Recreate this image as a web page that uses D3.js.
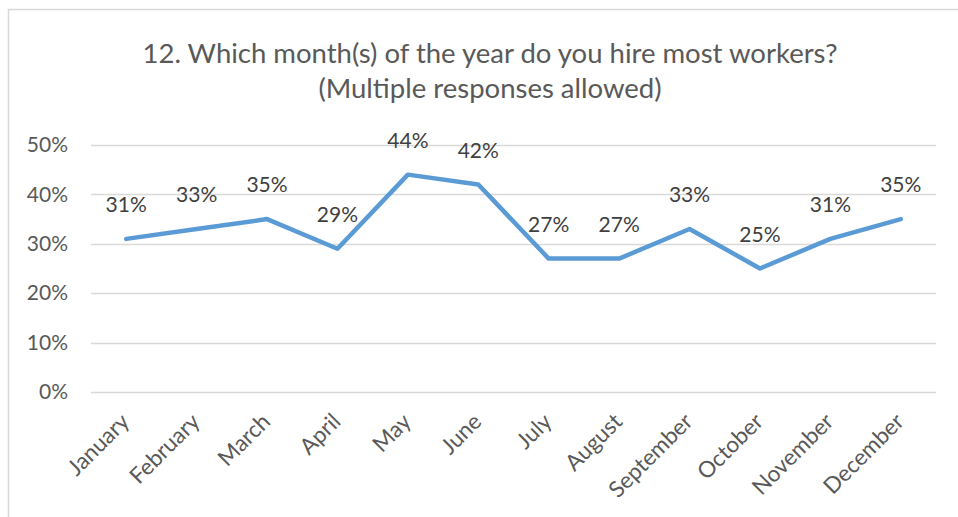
<!DOCTYPE html>
<html>
<head>
<meta charset="utf-8">
<script src="https://cdn.jsdelivr.net/npm/d3@7"></script>
<style>
  html, body { margin: 0; padding: 0; background: #fff; }
  svg { display: block; font-family: Lato, "Open Sans", sans-serif; }
</style>
</head>
<body>
<svg id="chart" width="958" height="517"></svg>
<script>
// Survey results: share of respondents hiring most workers in each month
const months = ["January", "February", "March", "April", "May", "June",
                "July", "August", "September", "October", "November", "December"];
const shares = [31, 33, 35, 29, 44, 42, 27, 27, 33, 25, 31, 35];
const yTicks = [0, 10, 20, 30, 40, 50];
const titleLines = ["12. Which month(s) of the year do you hire most workers?",
                    "(Multiple responses allowed)"];

const svg = d3.select("#chart");
const W = 958, H = 517;
const plot = { left: 91, right: 936, top: 145, bottom: 392 };
const FONT = "Lato, 'Open Sans', sans-serif";

// Chart frame (runs off the right and bottom edges)
svg.append("rect")
  .attr("x", 8.5).attr("y", 9.5)
  .attr("width", W + 10).attr("height", H + 10)
  .attr("fill", "#fff").attr("stroke", "#d9d9d9").attr("stroke-width", 1.5);

// Title
const title = svg.append("g").attr("fill", "#595959")
  .attr("text-anchor", "middle").style("font-size", "27.5px");
title.selectAll("text").data(titleLines).join("text")
  .attr("x", 490)
  .attr("y", (d, i) => 63 + i * 35)
  .text(d => d);

const x = d3.scalePoint().domain(months).range([plot.left, plot.right]).padding(0.5);
const y = d3.scaleLinear().domain([0, 50]).range([plot.bottom, plot.top]);

// Horizontal gridlines
svg.append("g")
  .selectAll("line").data(yTicks).join("line")
  .attr("x1", plot.left).attr("x2", plot.right)
  .attr("y1", d => Math.round(y(d)) + 0.5).attr("y2", d => Math.round(y(d)) + 0.5)
  .attr("stroke", "#d9d9d9").attr("stroke-width", 1.3);

// Y axis labels
const yAxis = d3.axisLeft(y).tickValues(yTicks).tickFormat(d => d + "%").tickSize(0).tickPadding(23);
const yg = svg.append("g").attr("transform", `translate(${plot.left},0)`).call(yAxis);
yg.select(".domain").remove();
yg.selectAll("text").attr("fill", "#595959").style("font-size", "21px")
  .style("font-family", FONT);

// X axis labels, rotated
const xAxis = d3.axisBottom(x).tickSize(0).tickPadding(0);
const xg = svg.append("g").attr("transform", `translate(0,${plot.bottom})`).call(xAxis);
xg.select(".domain").remove();
xg.selectAll("text")
  .attr("fill", "#595959").style("font-size", "22.5px")
  .style("font-family", FONT)
  .attr("text-anchor", "end")
  .attr("dy", 0)
  .attr("transform", "translate(4,31) rotate(-45)");

// Data line
const line = d3.line().x((d, i) => x(months[i])).y(d => y(d));
svg.append("path")
  .datum(shares)
  .attr("d", line)
  .attr("fill", "none")
  .attr("stroke", "#5b9bd5")
  .attr("stroke-width", 4.5)
  .attr("stroke-linejoin", "round")
  .attr("stroke-linecap", "round");

// Data labels
svg.append("g")
  .selectAll("text").data(shares).join("text")
  .attr("x", (d, i) => x(months[i]))
  .attr("y", d => y(d) - 27)
  .attr("text-anchor", "middle")
  .attr("fill", "#404040")
  .style("font-size", "21px")
  .text(d => d + "%");
</script>
</body>
</html>
